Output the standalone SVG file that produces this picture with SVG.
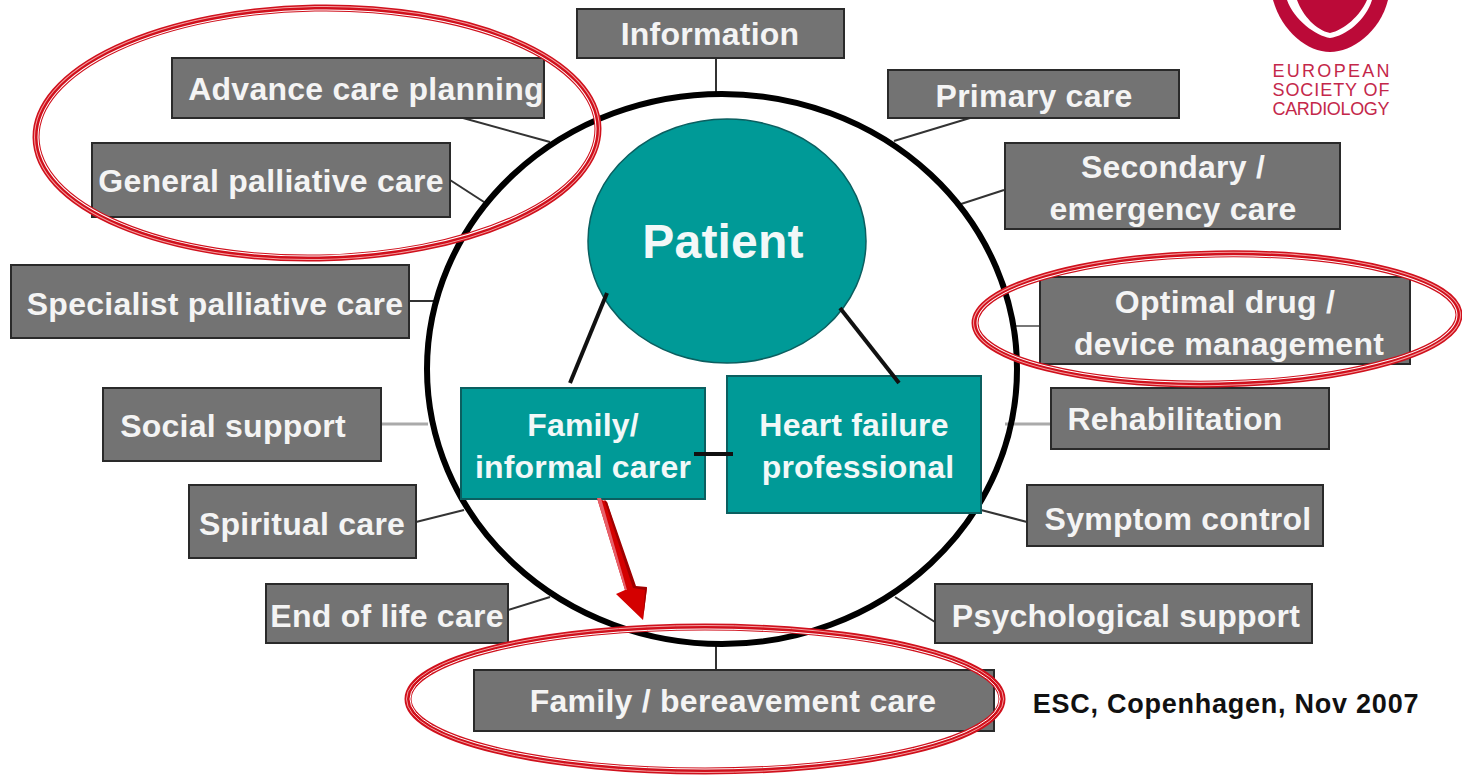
<svg xmlns="http://www.w3.org/2000/svg" width="1462" height="775" viewBox="0 0 1462 775">
<style>
text{font-family:"Liberation Sans",Arial,sans-serif;font-weight:bold;text-anchor:middle}
.g rect{fill:#737373;stroke:#2a2a2a;stroke-width:2}
.g text{fill:#f4f4f4;font-size:32px;letter-spacing:.25px}
.t rect{fill:#009a97;stroke:#0b5f60;stroke-width:2}
.t text{fill:#f2f8f8;font-size:32px;letter-spacing:.2px}
.c line{stroke:#333;stroke-width:2}
.k line{stroke:#111;stroke-width:4}
.o ellipse{fill:none}
.r1{stroke:#d0101c;stroke-width:7}
.r2{stroke:#fff;stroke-width:1}
.r3{stroke:#f3a0a0;stroke-width:1}
.l text{fill:#c4274a;font-size:18px;font-weight:normal}
</style>
<g class="c" id="connectors">
<line x1="716" y1="58" x2="716" y2="94"/>
<line x1="463" y1="118" x2="550" y2="142"/>
<line x1="450" y1="180" x2="484" y2="202"/>
<line x1="409" y1="301" x2="436" y2="301"/>
<line x1="381" y1="424" x2="428" y2="424" style="stroke:#aaa;stroke-width:3"/>
<line x1="416" y1="522" x2="464" y2="510"/>
<line x1="508" y1="610" x2="550" y2="597"/>
<line x1="716" y1="645" x2="716" y2="670"/>
<line x1="970" y1="118" x2="894" y2="141"/>
<line x1="1004" y1="190" x2="961" y2="204"/>
<line x1="1040" y1="326" x2="1012" y2="326" style="stroke:#777"/>
<line x1="1051" y1="424" x2="1005" y2="424" style="stroke:#aaa;stroke-width:3"/>
<line x1="1027" y1="522" x2="981" y2="510"/>
<line x1="935" y1="622" x2="895" y2="597"/>
</g>
<ellipse id="ring" cx="722" cy="369" rx="295" ry="275" fill="none" stroke="#000" stroke-width="6"/>
<g id="patient" class="t"><ellipse cx="727" cy="241" rx="139" ry="122" fill="#009a97" stroke="#0b5f60" stroke-width="1.5"/><text x="723" y="258" style="font-size:48px">Patient</text></g>
<g id="family" class="t"><rect x="461" y="388" width="244" height="111"/><text x="583" y="436">Family/</text><text x="583" y="478">informal carer</text></g>
<g id="hf" class="t"><rect x="727" y="376" width="254" height="137"/><text x="854" y="436">Heart failure</text><text x="858" y="478">professional</text></g>
<g id="information" class="g"><rect x="577" y="9" width="267" height="49"/><text x="710" y="45">Information</text></g>
<g id="advance" class="g"><rect x="172" y="58" width="372" height="60"/><text x="366" y="100">Advance care planning</text></g>
<g id="general" class="g"><rect x="92" y="143" width="358" height="74"/><text x="271" y="192">General palliative care</text></g>
<g id="specialist" class="g"><rect x="11" y="265" width="398" height="73"/><text x="215" y="315">Specialist palliative care</text></g>
<g id="social" class="g"><rect x="103" y="388" width="278" height="73"/><text x="233" y="437">Social support</text></g>
<g id="spiritual" class="g"><rect x="189" y="485" width="227" height="73"/><text x="302" y="535">Spiritual care</text></g>
<g id="endoflife" class="g"><rect x="266" y="584" width="242" height="59"/><text x="387" y="627">End of life care</text></g>
<g id="bereavement" class="g"><rect x="474" y="670" width="520" height="61"/><text x="733" y="712">Family / bereavement care</text></g>
<g id="primary" class="g"><rect x="888" y="70" width="291" height="48"/><text x="1034" y="107">Primary care</text></g>
<g id="secondary" class="g"><rect x="1005" y="143" width="335" height="86"/><text x="1173" y="178">Secondary /</text><text x="1173" y="220">emergency care</text></g>
<g id="drug" class="g"><rect x="1040" y="277" width="370" height="87"/><text x="1225" y="313">Optimal drug /</text><text x="1229" y="355">device management</text></g>
<g id="rehab" class="g"><rect x="1051" y="388" width="278" height="61"/><text x="1175" y="430">Rehabilitation</text></g>
<g id="symptom" class="g"><rect x="1027" y="485" width="296" height="61"/><text x="1178" y="530">Symptom control</text></g>
<g id="psych" class="g"><rect x="935" y="584" width="377" height="59"/><text x="1126" y="627">Psychological support</text></g>
<g class="k" id="links">
<line x1="607" y1="293" x2="570" y2="383"/>
<line x1="840" y1="308" x2="899" y2="383"/>
<line x1="694" y1="454" x2="733" y2="454"/>
</g>
<g id="arrow">
<polygon points="597,498 607,502 634,588 647,588 643,620 616,594 625,590" fill="#d40000"/>
<polygon points="604,499 607,502 636,586 647,587 643,620 645,590 633,588" fill="#a00000"/>
<polygon points="597,498 601,498 627,590 625,590" fill="#e8606a"/>
</g>
<g id="circles" class="o">
<ellipse class="r1" cx="317" cy="133" rx="281" ry="125" transform="rotate(-1 317 133)"/><ellipse class="r3" cx="317" cy="133" rx="282.500" ry="126.500" transform="rotate(-1 317 133)"/><ellipse class="r2" cx="317" cy="133" rx="279" ry="123" transform="rotate(-1 317 133)"/>
<ellipse class="r1" cx="1217" cy="319" rx="242" ry="65" transform="rotate(-1 1217 319)"/><ellipse class="r3" cx="1217" cy="319" rx="243.500" ry="66.500" transform="rotate(-1 1217 319)"/><ellipse class="r2" cx="1217" cy="319" rx="240" ry="63" transform="rotate(-1 1217 319)"/>
<ellipse class="r1" cx="705" cy="699" rx="297" ry="72"/><ellipse class="r3" cx="705" cy="699" rx="298.500" ry="73.500"/><ellipse class="r2" cx="705" cy="699" rx="295" ry="70"/>
</g>
<text id="source" x="1226" y="713" style="font-size:27px;letter-spacing:.75px;fill:#111">ESC, Copenhagen, Nov 2007</text>
<g id="logo" class="l">
<path d="M1273,0 C1282,32 1308,52 1330,52 C1352,52 1380,32 1388,0 Z" fill="#bb0a38"/>
<path d="M1287,0 C1294,20 1316,36 1330,38 C1346,36 1366,20 1372,0 L1367,0 C1360,16 1344,30 1330,33 C1316,30 1303,16 1297,0 Z" fill="#fff"/>
<text x="1331" y="77" textLength="117">EUROPEAN</text><text x="1331" y="96" textLength="117">SOCIETY OF</text><text x="1331" y="115" textLength="117">CARDIOLOGY</text>
</g>
</svg>
